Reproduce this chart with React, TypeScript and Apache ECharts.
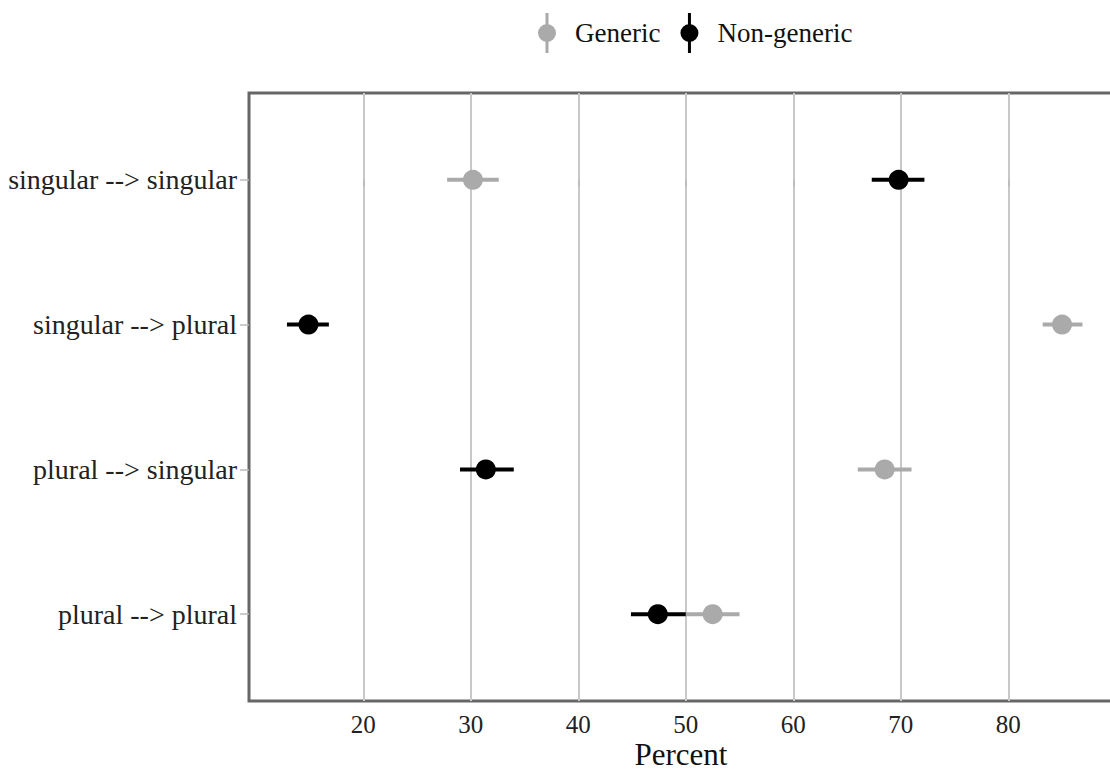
import React, { useEffect, useRef } from "react";
import * as echarts from "echarts";

const categories = [
  "singular --> singular",
  "singular --> plural",
  "plural --> singular",
  "plural --> plural",
];
const categoryIndex = [0, 1, 2, 3];
const genericMean = [30.2, 85.0, 68.5, 52.5];
const genericLow = [27.8, 83.2, 66.0, 50.0];
const genericHigh = [32.6, 86.9, 71.0, 55.0];
const nonGenericMean = [69.8, 14.9, 31.4, 47.4];
const nonGenericLow = [67.3, 12.9, 29.0, 44.9];
const nonGenericHigh = [72.2, 16.8, 34.0, 50.0];
const xTicks = [20, 30, 40, 50, 60, 70, 80];

const GRAY = "#aaaaaa";
const BLACK = "#000000";
const FONT = "'Liberation Serif', 'Times New Roman', serif";
const LEGEND_ICON =
  "path://M0,20A9,9 0 1,1 18,20A9,9 0 1,1 0,20ZM7.5,0H10.5V40H7.5Z";

function errorSeries(name: string, lo: number[], hi: number[], color: string) {
  return {
    name,
    type: "custom",
    silent: true,
    data: categoryIndex.map((i) => [lo[i], hi[i], i]),
    encode: { x: [0, 1], y: 2 },
    renderItem: (params: any, api: any) => {
      const p1 = api.coord([api.value(0), api.value(2)]);
      const p2 = api.coord([api.value(1), api.value(2)]);
      return {
        type: "line",
        shape: { x1: p1[0], y1: p1[1], x2: p2[0], y2: p2[1] },
        style: { stroke: color, lineWidth: 4 },
      };
    },
  };
}

export default function App() {
  const ref = useRef<HTMLDivElement>(null);
  useEffect(() => {
    if (!ref.current) return;
    const chart = echarts.init(ref.current, undefined, { renderer: "svg" });
    chart.setOption({
      animation: false,
      backgroundColor: "#ffffff",
      textStyle: { fontFamily: FONT },
      legend: {
        data: ["Generic", "Non-generic"],
        left: 533,
        top: 8,
        icon: LEGEND_ICON,
        itemWidth: 18,
        itemHeight: 40,
        itemGap: 20,
        textStyle: {
          fontFamily: FONT,
          fontSize: 27,
          color: "#111",
          padding: [0, 0, 0, 14],
        },
      },
      grid: {
        left: 249,
        top: 93,
        right: -3,
        bottom: 72,
        show: true,
        borderColor: "#666666",
        borderWidth: 3,
        backgroundColor: "transparent",
        containLabel: false,
        outerBoundsMode: "none",
      },
      xAxis: {
        type: "value",
        min: 9.37,
        max: 89.74,
        name: "Percent",
        nameLocation: "middle",
        nameGap: 38,
        nameMoveOverlap: false,
        nameTextStyle: {
          fontFamily: FONT,
          fontSize: 31,
          lineHeight: 31,
          color: "#111",
        },
        axisLine: { show: false },
        axisTick: {
          show: true,
          customValues: xTicks,
          length: 7,
          lineStyle: { color: "#bbbbbb", width: 1.5 },
        },
        axisLabel: {
          customValues: xTicks,
          fontFamily: FONT,
          fontSize: 25,
          lineHeight: 25,
          color: "#222",
          margin: 11,
        },
        splitLine: {
          show: true,
          lineStyle: { color: "#c8c8c8", width: 2 },
        },
      },
      yAxis: {
        type: "value",
        inverse: true,
        min: -0.6,
        max: 3.6,
        axisLine: { show: false },
        axisTick: {
          show: true,
          customValues: categoryIndex,
          length: 9,
          lineStyle: { color: "#bbbbbb", width: 1.5 },
        },
        axisLabel: {
          customValues: categoryIndex,
          formatter: (v: number) => categories[Math.round(v)] ?? "",
          fontFamily: FONT,
          fontSize: 28,
          color: "#222",
          margin: 12,
        },
        splitLine: { show: false },
      },
      series: [
        errorSeries("Generic CI", genericLow, genericHigh, GRAY),
        {
          name: "Generic",
          type: "scatter",
          symbol: "circle",
          symbolSize: 20,
          itemStyle: { color: GRAY, opacity: 1 },
          data: categoryIndex.map((i) => [genericMean[i], i]),
          z: 3,
        },
        errorSeries("Non-generic CI", nonGenericLow, nonGenericHigh, BLACK),
        {
          name: "Non-generic",
          type: "scatter",
          symbol: "circle",
          symbolSize: 20,
          itemStyle: { color: BLACK, opacity: 1 },
          data: categoryIndex.map((i) => [nonGenericMean[i], i]),
          z: 4,
        },
      ],
    });
    return () => chart.dispose();
  }, []);
  return (
    <div
      ref={ref}
      style={{
        position: "fixed",
        left: 0,
        top: 0,
        width: 1110,
        height: 773,
        background: "#fff",
      }}
    />
  );
}
